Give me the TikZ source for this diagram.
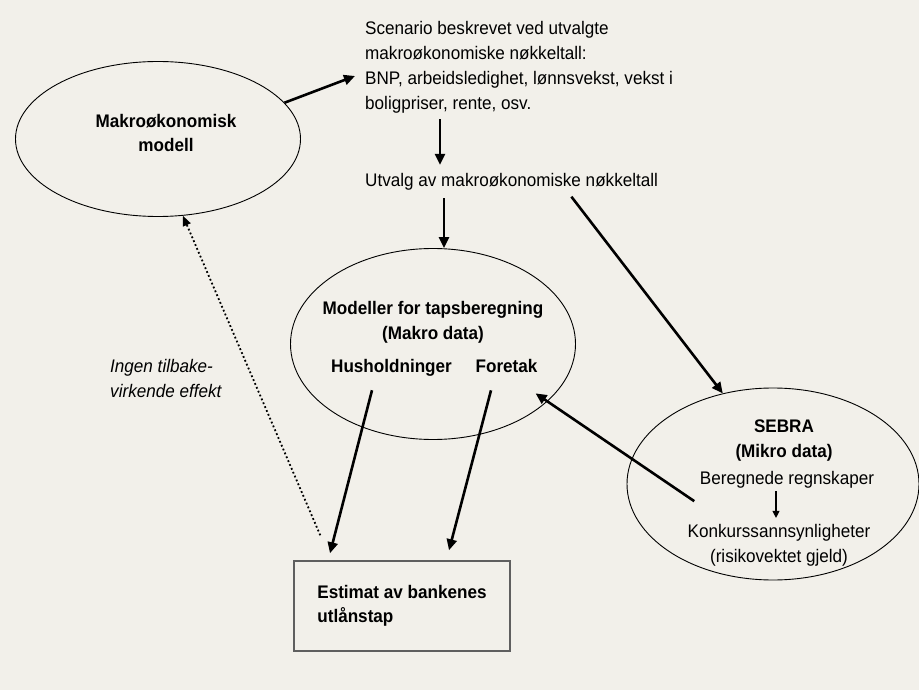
\documentclass[tikz,border=0pt]{standalone}
\usepackage{fontspec}
\setmainfont{Liberation Sans}[FakeStretch=0.94]
\usetikzlibrary{shapes.geometric,arrows.meta}
\definecolor{bgcol}{RGB}{242,240,234}
\definecolor{boxgray}{RGB}{95,95,95}
\tikzset{
  txt/.style={inner sep=0pt, font=\fontsize{18.2}{24.5}\selectfont},
  boldtxt/.style={inner sep=0pt, font=\fontsize{18.2}{24.5}\selectfont\bfseries},
  oval/.style={ellipse, draw, line width=0.9pt, inner sep=0pt},
  fat/.style={line width=2.6pt, -{Triangle[length=11pt,width=10pt]}},
  smallarrow/.style={line width=1.2pt, -{Triangle[length=7pt,width=7pt]}},
  feedback/.style={line width=1.8pt, dash pattern=on 1.8pt off 2.4pt, -{Triangle[length=10pt,width=8pt]}}
}
\begin{document}
\begin{tikzpicture}[x=1pt,y=-1pt]
  \path[fill=bgcol, use as bounding box] (0,0) rectangle (919,690);
  % ovals
  \node[oval, minimum width=285pt, minimum height=155pt] (makro) at (158,139) {};
  \node[oval, minimum width=285pt, minimum height=191pt] (tap) at (433,344) {};
  \node[oval, minimum width=292pt, minimum height=192pt] (sebra) at (773,484) {};
  % texts (base = last line)
  \node[boldtxt, align=center, anchor=base] (makrotxt) at (166,152) {Makroøkonomisk\\modell};
  \node[txt, align=left, anchor=base west, font=\fontsize{18.2}{25}\selectfont] (scen) at (365,110)
    {Scenario beskrevet ved utvalgte\\makroøkonomiske nøkkeltall:\\BNP, arbeidsledighet, lønnsvekst, vekst i\\boligpriser, rente, osv.};
  \node[txt, anchor=base west] (utv) at (365,187) {Utvalg av makroøkonomiske nøkkeltall};
  \node[boldtxt, align=center, anchor=base] (taptxt) at (433,339) {Modeller for tapsberegning\\(Makro data)};
  \node[boldtxt, anchor=base] (hush) at (391.5,372) {Husholdninger};
  \node[boldtxt, anchor=base] (fore) at (506.5,372) {Foretak};
  \node[txt, align=left, anchor=base west, font=\fontsize{18.2}{24.5}\selectfont\itshape] (ingen) at (110,397)
    {Ingen tilbake-\\virkende effekt};
  \node[boldtxt, align=center, anchor=base] (sebratxt) at (784,457) {SEBRA\\(Mikro data)};
  \node[txt, anchor=base] (regn) at (787,484) {Beregnede regnskaper};
  \node[txt, align=center, anchor=base] (konk) at (779,562) {Konkurssannsynligheter\\(risikovektet gjeld)};
  \node[boldtxt, draw=boxgray, line width=1.5pt, minimum width=216pt, minimum height=90pt, align=left] (est)
    at (402,606) {Estimat av bankenes\\utlånstap};
  % arrows
  \coordinate (colA) at (440,0);
  \coordinate (colB) at (444,0);
  \coordinate (colC) at (567,0);
  \coordinate (colD) at (776,0);
  \coordinate (scenin) at (355,76);
  \draw[fat] (makro.16) -- (scenin);
  \draw[fat, shorten <=5.2pt, shorten >=8.7pt] (scen.south -| colA) -- (utv.north -| colA);
  \draw[fat, shorten <=7.2pt] (utv.south -| colB) -- (tap.north -| colB);
  \draw[fat, shorten <=7.2pt] (utv.south -| colC) -- (sebra.119.5);
  \draw[fat] ([xshift=-19.5pt,yshift=-14.2pt]hush.south) -- ([xshift=-72pt,yshift=7pt]est.north);
  \draw[fat] ([xshift=-15.5pt,yshift=-18pt]fore.south) -- ([xshift=47pt,yshift=10pt]est.north);
  \draw[fat] ([xshift=-5.5pt,yshift=-13.2pt]regn.south west) -- ([xshift=-2pt,yshift=-21pt]fore.south east);
  \draw[smallarrow, shorten <=3.2pt, shorten >=6.2pt] (regn.south -| colD) -- (konk.north -| colD);
  \draw[feedback] ([xshift=27pt,yshift=25pt]est.north west) -- (makro.-72);
\end{tikzpicture}
\end{document}
